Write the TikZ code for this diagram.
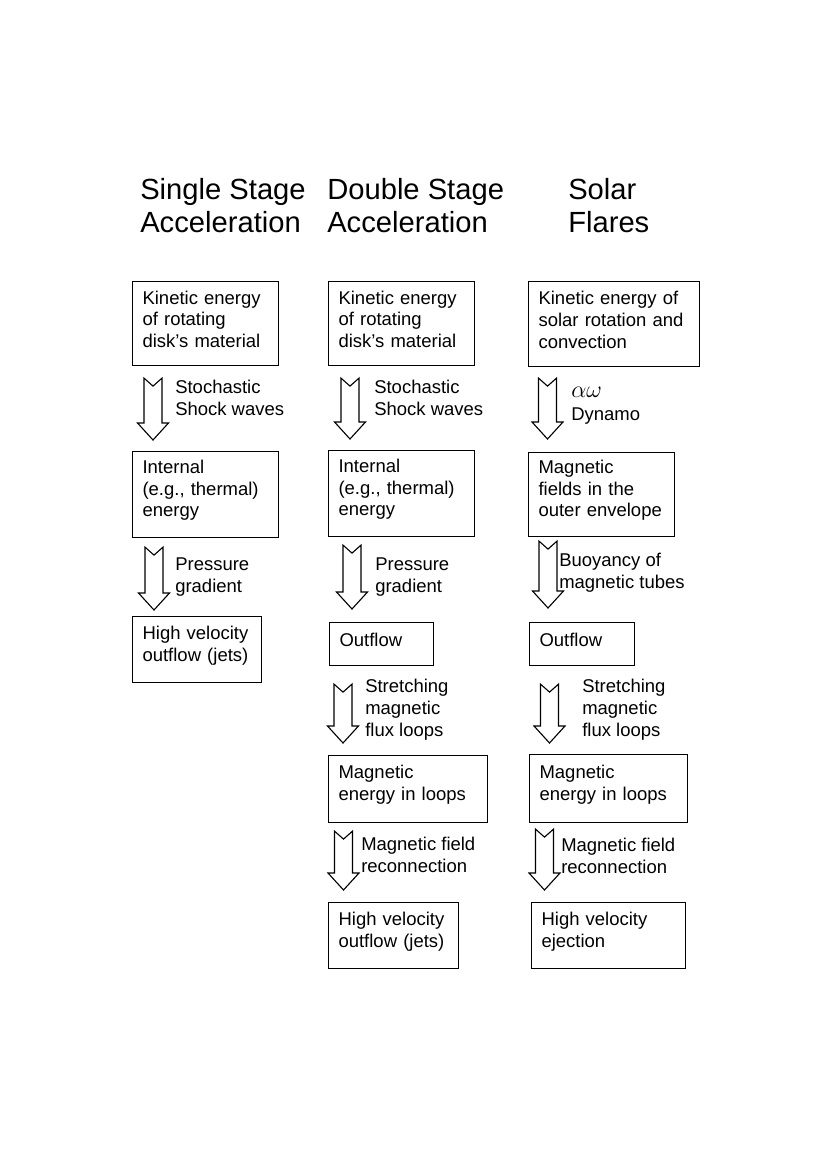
\documentclass[tikz,border=0pt]{standalone}
\usepackage{fontspec}
\setmainfont{Liberation Sans}
\usetikzlibrary{calc}

% one pixel of the page
\newcommand{\pxu}{0.7198pt}
% block arrow: from, gap below it, to, gap above it, x
\newcommand{\flowarrow}[5]{%
\path (#1.south) ++(0,#2) coordinate (fa top0);
\path (#3.north) ++(0,-#4) coordinate (fa tip0);
\path let \p1=(fa top0) in (#5*\pxu,\y1) coordinate (fa top);
\path let \p1=(fa tip0) in (#5*\pxu,\y1) coordinate (fa tip);
\draw [flow] (fa top) ++(-9,0) -- ++(9,8) -- ++(9,-8) -- ($(fa tip)+(9,-17)$) -- ++(6.5,0) -- (fa tip) -- ++(-15.5,-17) -- ++(6.5,0) -- cycle;
}

\begin{document}
\begin{tikzpicture}[x=0.7198pt,y=-0.7198pt]
\tikzstyle{box}=[draw=black, line width=0.8pt, anchor=north west, inner xsep=10*\pxu, inner ysep=2pt, align=left, font=\fontsize{13.3}{15.7}\selectfont, execute at end node={\endgraf\kern6pt}]
\tikzstyle{note}=[anchor=north west, inner sep=0pt, align=left, font=\fontsize{13.3}{15.7}\selectfont]
\tikzstyle{head}=[anchor=north west, inner sep=0pt, align=left, font=\fontsize{21}{23.8}\selectfont]
\tikzstyle{flow}=[draw=black, line width=0.8pt, fill=white]
\useasboundingbox (0,0) rectangle (827,1170);
\node [head] (t1) at (140,178) {Single Stage\\Acceleration};
\node [head] (t2) at (327,178) {Double Stage\\Acceleration};
\node [head] (t3) at (568,178) {Solar\\Flares};
% single stage
\node [box, text width=126*\pxu, minimum height=84*\pxu] (k1) at (132,281) {Kinetic energy\\of rotating\\disk’s material};
\node [box, text width=126*\pxu, minimum height=86*\pxu] (i1) at (132,451) {Internal\\(e.g., thermal)\\energy};
\node [box, text width=109*\pxu, minimum height=66*\pxu] (h1) at (132,616) {High velocity\\outflow (jets)};
% double stage
\node [box, text width=126*\pxu, minimum height=84*\pxu] (k2) at (328,281) {Kinetic energy\\of rotating\\disk’s material};
\node [box, text width=126*\pxu, minimum height=86*\pxu] (i2) at (328,450) {Internal\\(e.g., thermal)\\energy};
\node [box, text width=84*\pxu, minimum height=43*\pxu] (o2) at (329,622) {Outflow};
\node [box, text width=139*\pxu, minimum height=67*\pxu] (m2) at (328,755) {Magnetic\\energy in loops};
\node [box, text width=110*\pxu, minimum height=66*\pxu] (h2) at (328,902) {High velocity\\outflow (jets)};
% solar flares
\node [box, text width=151*\pxu, minimum height=85*\pxu] (k3) at (528,281) {Kinetic energy of\\solar rotation and\\convection};
\node [box, text width=126*\pxu, minimum height=84*\pxu] (f3) at (528,452) {Magnetic\\fields in the\\outer envelope};
\node [box, text width=85*\pxu, minimum height=43*\pxu] (o3) at (529,622) {Outflow};
\node [box, text width=138*\pxu, minimum height=68*\pxu] (m3) at (529,754) {Magnetic\\energy in loops};
\node [box, text width=134*\pxu, minimum height=66*\pxu] (h3) at (531,902) {High velocity\\ejection};
% arrows
\flowarrow{k1}{12}{i1}{11}{153}
\flowarrow{i1}{9}{h1}{6}{154}
\flowarrow{k2}{12}{i2}{11}{350}
\flowarrow{i2}{8}{o2}{13}{352}
\flowarrow{o2}{18}{m2}{12}{343}
\flowarrow{m2}{8}{h2}{12}{343.5}
\flowarrow{k3}{11}{f3}{13}{547.5}
\flowarrow{f3}{4}{o3}{14}{548}
\flowarrow{o3}{18}{m3}{11}{549.5}
\flowarrow{m3}{6}{h3}{12}{544.5}
% arrow labels
\node [note] (s1) at (175,380) {Stochastic\\Shock waves};
\node [note] (p1) at (175,558) {Pressure\\gradient};
\node [note] (s2) at (374,380) {Stochastic\\Shock waves};
\node [note] (p2) at (375,558) {Pressure\\gradient};
\node [note] (x2) at (365,679) {Stretching\\magnetic\\flux loops};
\node [note] (r2) at (361,837) {Magnetic field\\reconnection};
\node [note] (d3) at (571,387) {{\LARGE$\alpha\omega$}\\[1pt]Dynamo};
\node [note] (b3) at (559,553) {Buoyancy of\\magnetic tubes};
\node [note] (x3) at (582,679) {Stretching\\magnetic\\flux loops};
\node [note] (r3) at (561,838) {Magnetic field\\reconnection};
\end{tikzpicture}
\end{document}
